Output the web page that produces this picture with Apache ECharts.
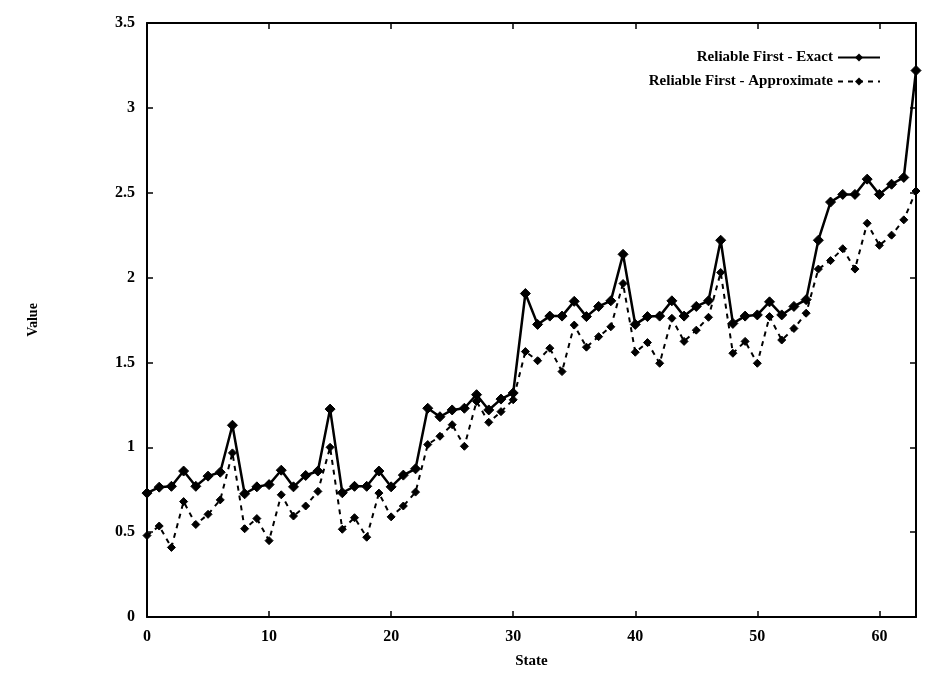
<!DOCTYPE html>
<html>
<head>
<meta charset="utf-8">
<script src="https://cdn.jsdelivr.net/npm/echarts@6/dist/echarts.min.js"></script>
<style>
html,body{margin:0;padding:0;background:#fff;}
#chart{width:928px;height:674px;}
</style>
</head>
<body>
<div id="chart"></div>
<script>
const states = Array.from({length: 64}, (_, i) => i);
const exactValues = [0.73,0.765,0.77,0.86,0.77,0.83,0.853,1.13,0.726,0.767,0.78,0.865,0.767,0.834,0.86,1.225,
  0.732,0.77,0.77,0.86,0.767,0.836,0.873,1.23,1.18,1.22,1.23,1.31,1.22,1.284,1.32,1.906,
  1.724,1.773,1.773,1.86,1.77,1.83,1.863,2.137,1.724,1.77,1.773,1.863,1.773,1.83,1.863,2.22,
  1.73,1.773,1.78,1.857,1.78,1.83,1.87,2.22,2.445,2.49,2.49,2.58,2.49,2.55,2.59,3.22];
const approxValues = [0.48,0.536,0.41,0.68,0.545,0.605,0.69,0.967,0.52,0.58,0.45,0.72,0.595,0.654,0.74,1.0,
  0.517,0.585,0.47,0.73,0.59,0.654,0.736,1.016,1.065,1.133,1.006,1.27,1.147,1.21,1.28,1.564,
  1.51,1.584,1.446,1.72,1.59,1.652,1.71,1.965,1.56,1.617,1.495,1.76,1.624,1.69,1.766,2.03,
  1.554,1.624,1.495,1.77,1.632,1.70,1.79,2.05,2.10,2.17,2.05,2.32,2.19,2.25,2.34,2.51];
const seriesNames = ['Reliable First - Exact', 'Reliable First - Approximate'];
const xTitle = 'State';
const yTitle = 'Value';

const font = 'Liberation Serif';
const chart = echarts.init(document.getElementById('chart'), null, {renderer: 'canvas'});
const tickCommon = {show: true, inside: true, length: 6, lineStyle: {color: '#000', width: 1.5}};
chart.setOption({
  animation: false,
  backgroundColor: '#fff',
  grid: {left: 147, right: 12, top: 23, bottom: 57, show: false},
  legend: {
    orient: 'vertical', right: 42, top: 45, align: 'right',
    itemWidth: 42, itemHeight: 10, itemGap: 9,
    textStyle: {fontFamily: font, fontWeight: 'bold', fontSize: 15, color: '#000'},
    data: seriesNames
  },
  xAxis: [{
    type: 'value', min: 0, max: 63, interval: 10,
    name: xTitle, nameLocation: 'middle', nameGap: 37,
    nameTextStyle: {fontFamily: font, fontWeight: 'bold', fontSize: 15, color: '#000'},
    axisLine: {show: true, onZero: false, lineStyle: {color: '#000', width: 2}},
    axisTick: tickCommon,
    axisLabel: {fontFamily: font, fontWeight: 'bold', fontSize: 16, color: '#000', margin: 12, showMaxLabel: false},
    splitLine: {show: false}
  }, {
    type: 'value', min: 0, max: 63, interval: 10, position: 'top',
    axisLine: {show: true, onZero: false, lineStyle: {color: '#000', width: 2}},
    axisTick: tickCommon, axisLabel: {show: false}, splitLine: {show: false}
  }],
  yAxis: [{
    type: 'value', min: 0, max: 3.5, interval: 0.5,
    name: yTitle, nameLocation: 'middle', nameGap: 107, nameRotate: 90,
    nameTextStyle: {fontFamily: font, fontWeight: 'bold', fontSize: 14, color: '#000'},
    axisLine: {show: true, onZero: false, lineStyle: {color: '#000', width: 2}},
    axisTick: tickCommon,
    axisLabel: {fontFamily: font, fontWeight: 'bold', fontSize: 16, color: '#000', margin: 12},
    splitLine: {show: false}
  }, {
    type: 'value', min: 0, max: 3.5, interval: 0.5, position: 'right',
    axisLine: {show: true, onZero: false, lineStyle: {color: '#000', width: 2}},
    axisTick: tickCommon, axisLabel: {show: false}, splitLine: {show: false}
  }],
  series: [{
    name: seriesNames[0], type: 'line',
    data: states.map((s, i) => [s, exactValues[i]]),
    symbol: 'diamond', symbolSize: 10, showSymbol: true,
    lineStyle: {color: '#000', width: 2.5, type: 'solid'},
    itemStyle: {color: '#000', borderColor: '#000'},
    z: 3
  }, {
    name: seriesNames[1], type: 'line',
    data: states.map((s, i) => [s, approxValues[i]]),
    symbol: 'diamond', symbolSize: 8, showSymbol: true,
    lineStyle: {color: '#000', width: 2, type: [5, 5]},
    itemStyle: {color: '#000', borderColor: '#000'},
    z: 2
  }]
});
</script>
</body>
</html>
